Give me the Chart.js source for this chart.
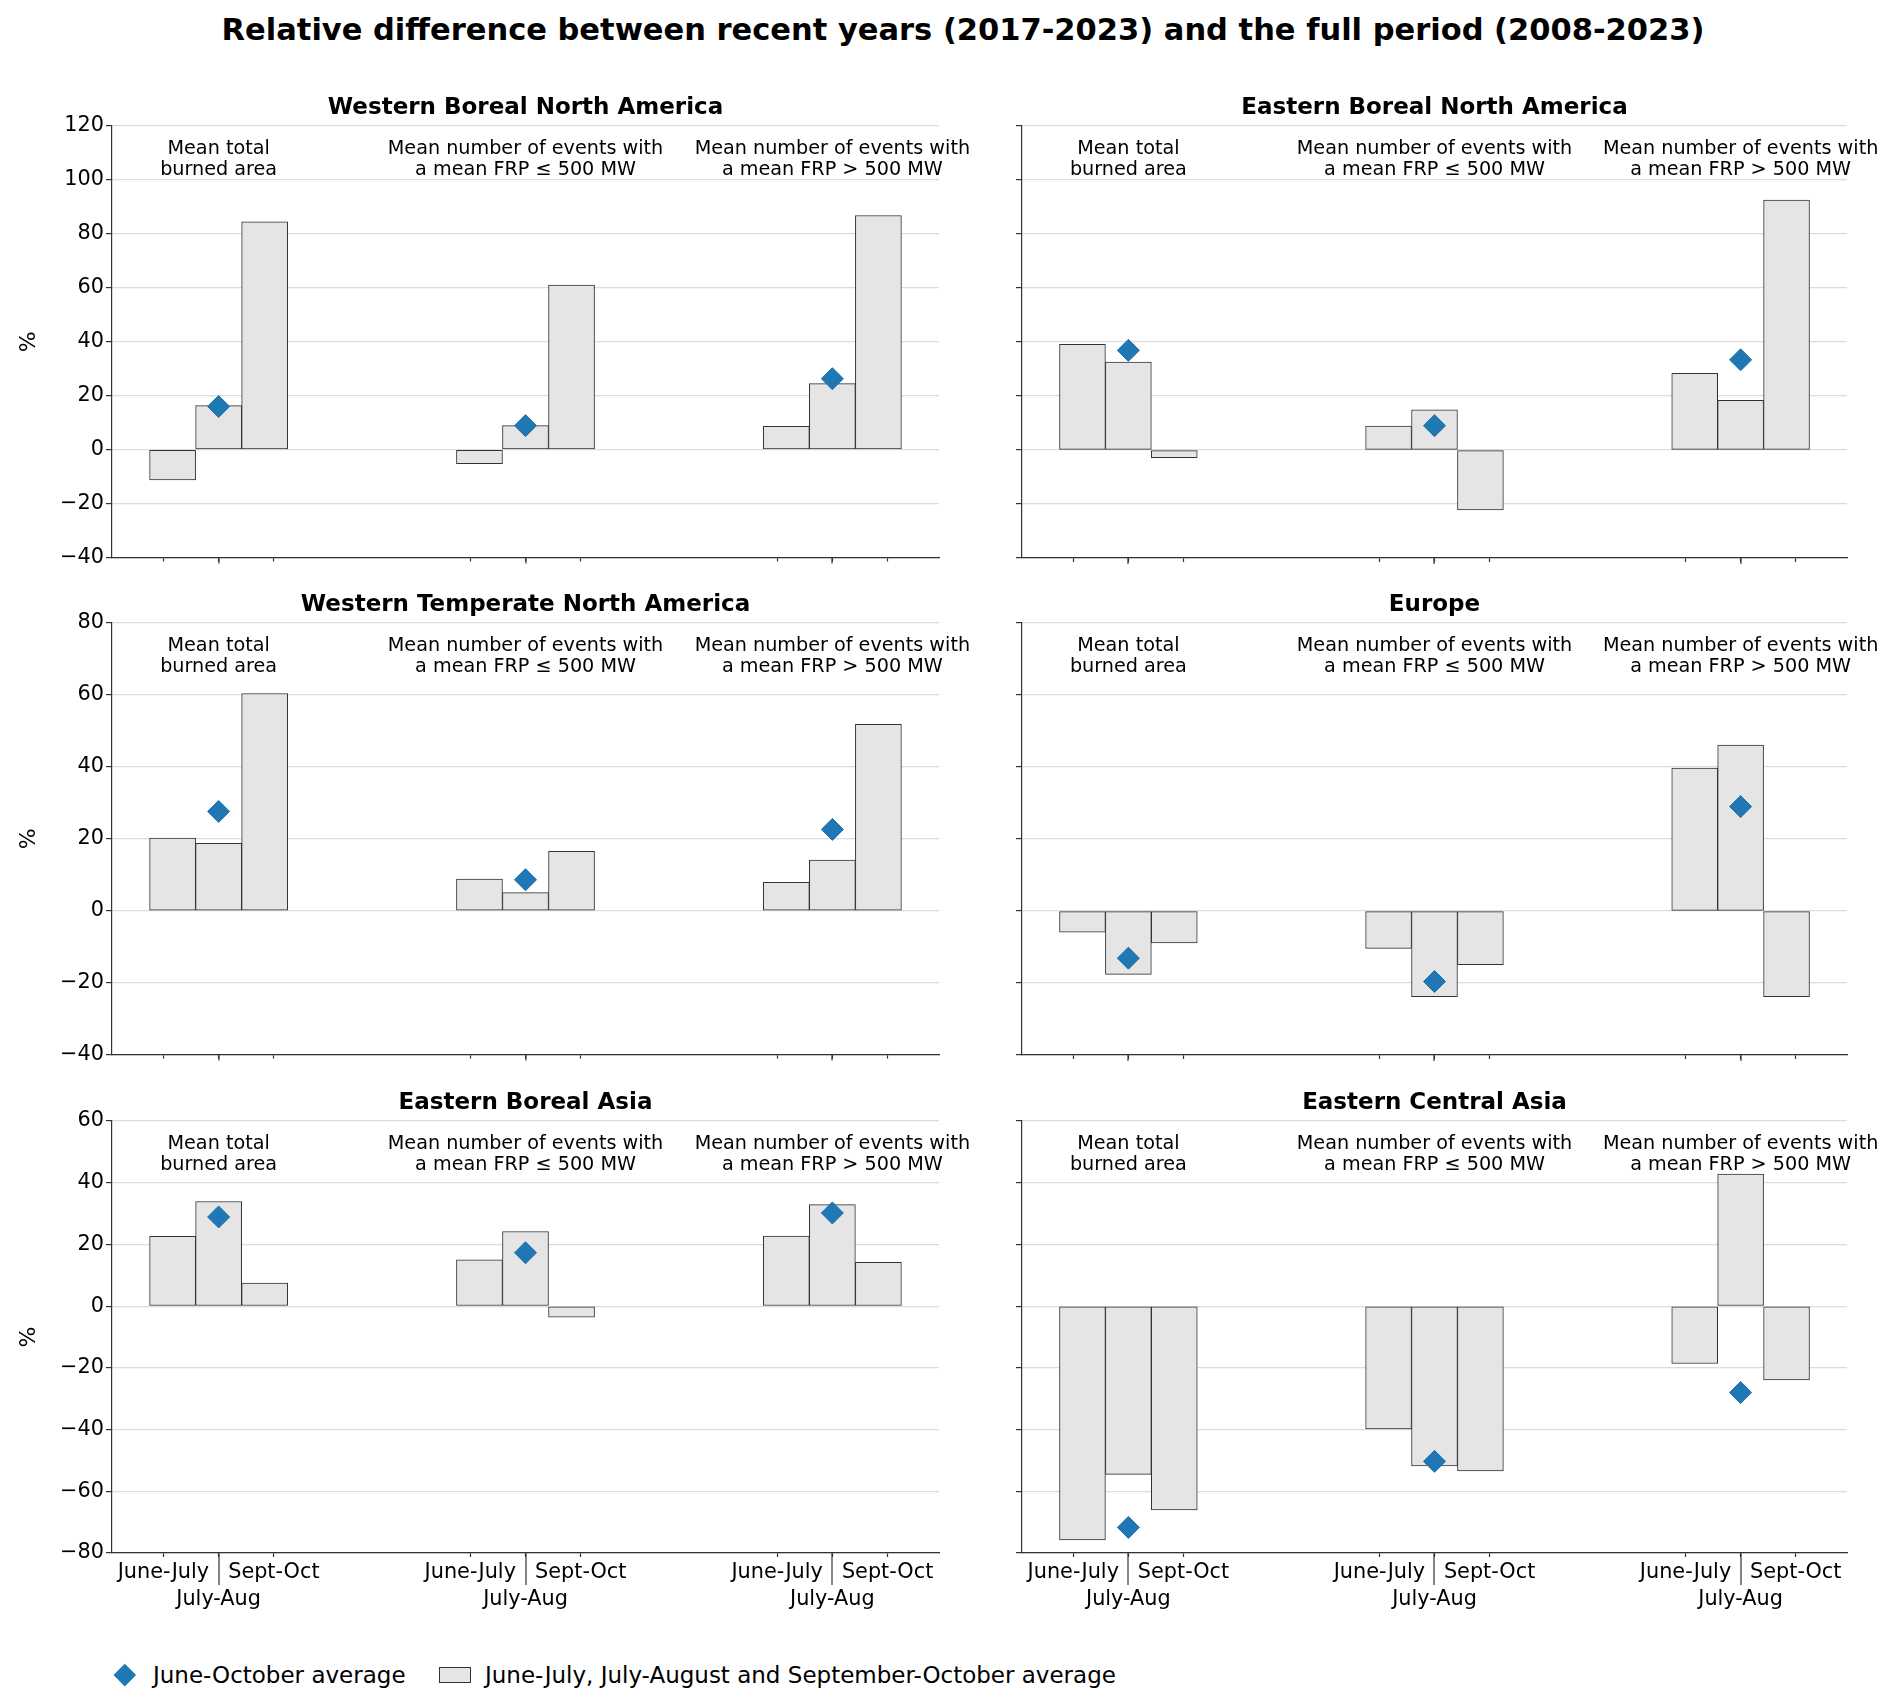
<!DOCTYPE html>
<html>
<head>
<meta charset="utf-8">
<script src="https://cdn.jsdelivr.net/npm/chart.js@4.4.1/dist/chart.umd.min.js"></script>
<style>
    body { margin: 0; background: white; font-family: "DejaVu Sans", sans-serif; }
    #figure { position: relative; width: 1892px; height: 1704px; overflow: hidden; }
    #figure canvas { position: absolute; }
    .suptitle { position: absolute; top: 15px; left: 963px; transform: translateX(-50%); white-space: nowrap; font-weight: bold; font-size: 30.5px; line-height: 1; }
    .legendText { position: absolute; top: 1664px; font-size: 23px; line-height: 1; white-space: nowrap; }
    .legendDiamond { position: absolute; left: 117px; top: 1667px; width: 15.6px; height: 15.6px; background: #1f77b4; transform: rotate(45deg); }
    .legendBox { position: absolute; left: 439px; top: 1667px; width: 32px; height: 16px; box-sizing: border-box; background: #e5e5e5; border: 1px solid #333; }
</style>
</head>
<body>
<div id="figure">
    <div class="suptitle">Relative difference between recent years (2017-2023) and the full period (2008-2023)</div>
    <div class="legendDiamond"></div>
    <div class="legendText" style="left: 153px">June-October average</div>
    <div class="legendBox"></div>
    <div class="legendText" style="left: 485px">June-July, July-August and September-October average</div>
</div>
<script>
const regions = ["Western Boreal North America", "Eastern Boreal North America", "Western Temperate North America", "Europe", "Eastern Boreal Asia", "Eastern Central Asia"]
const metricLabels = [["Mean total", "burned area"], ["Mean number of events with", "a mean FRP \u2264 500 MW"], ["Mean number of events with", "a mean FRP > 500 MW"]]
const periodLabels = ["June-July", "July-Aug", "Sept-Oct"]

// % difference per metric: [June-July, July-Aug, Sept-Oct]
const westernBorealNA = [[-11.2, 16.3, 84.5], [-5.2, 8.9, 61.0], [8.6, 24.5, 86.8]]
const easternBorealNA = [[39.1, 32.6, -2.8], [8.9, 14.9, -22.2], [28.4, 18.4, 92.6]]
const westernTemperateNA = [[20.2, 18.7, 60.4], [8.8, 5.0, 16.5], [7.9, 14.1, 51.8]]
const europe = [[-5.9, -17.6, -8.9], [-10.4, -23.8, -14.9], [39.7, 46.1, -23.8]]
const easternBorealAsia = [[22.6, 33.9, 7.5], [15.0, 24.2, -3.6], [22.7, 32.9, 14.2]]
const easternCentralAsia = [[-75.8, -54.5, -66.0], [-39.8, -51.8, -53.4], [-18.6, 42.8, -23.9]]

// June-October average per metric
const westernBorealNAMean = [16.0, 8.9, 26.3]
const easternBorealNAMean = [36.9, 9.0, 33.4]
const westernTemperateNAMean = [27.6, 8.6, 22.6]
const europeMean = [-13.1, -19.6, 29.0]
const easternBorealAsiaMean = [28.9, 17.3, 30.2]
const easternCentralAsiaMean = [-71.7, -50.3, -28.0]

const yRanges = [[-40, 120], [-40, 80], [-80, 60]]

const panelBars = [westernBorealNA, easternBorealNA, westernTemperateNA, europe, easternBorealAsia, easternCentralAsia]
const panelMeans = [westernBorealNAMean, easternBorealNAMean, westernTemperateNAMean, europeMean, easternBorealAsiaMean, easternCentralAsiaMean]

// layout
const barStep = 0.15
const tickStep = 0.18
const plotTops = [126, 623, 1121]
const plotHeight = 432

Chart.defaults.font.family = '"DejaVu Sans", sans-serif'

let minusSign = (v) => v < 0 ? `\u2212${Math.abs(v)}` : `${v}`

let panelText = {
    id: "panelText",
    afterDraw(chart, args, opts) {
        const { ctx, chartArea, scales: { x } } = chart
        ctx.save()
        ctx.fillStyle = "#000"
        ctx.textAlign = "center"
        ctx.textBaseline = "alphabetic"
        ctx.font = 'bold 23px "DejaVu Sans"'
        ctx.fillText(opts.title, (chartArea.left + chartArea.right) / 2, chartArea.top - 12.5)

        ctx.font = '19.2px "DejaVu Sans"'
        metricLabels.forEach((lines, g) => {
            let px = x.getPixelForValue(g)
            lines.forEach((t, k) => ctx.fillText(t, px, chartArea.top + 27.6 + k * 20.9))
        })

        // longer centre tick under each group
        ctx.strokeStyle = "#333"
        ctx.lineWidth = 1.2
        metricLabels.forEach((lines, g) => {
            let px = Math.round(x.getPixelForValue(g))
            ctx.beginPath()
            ctx.moveTo(px, chartArea.bottom)
            ctx.lineTo(px, chartArea.bottom + opts.centerTick)
            ctx.stroke()
        })
        ctx.restore()
    }
}

let makePanel = (index) => {
    let row = Math.floor(index / 2)
    let col = index % 2
    let isLeft = col === 0
    let isBottom = row === 2
    let axisHeight = isBottom ? 80 : 14

    let canvas = document.createElement("canvas")
    let width = isLeft ? 1000 : 932
    let height = 50 + plotHeight + axisHeight
    canvas.width = width
    canvas.height = height
    canvas.style.left = `${isLeft ? 0 : 960}px`
    canvas.style.top = `${plotTops[row] - 50}px`
    canvas.style.width = `${width}px`
    canvas.style.height = `${height}px`
    document.getElementById("figure").appendChild(canvas)

    let bars = []
    let means = []
    panelBars[index].forEach((vals, g) => {
        vals.forEach((v, k) => bars.push({ x: g + (k - 1) * barStep, y: v }))
        means.push({ x: g, y: panelMeans[index][g] })
    })
    let xTicks = []
    metricLabels.forEach((m, g) => xTicks.push(g - tickStep, g, g + tickStep))

    new Chart(canvas, {
        type: "bar",
        data: {
            datasets: [
                {
                    type: "scatter",
                    label: "June-October average",
                    data: means,
                    order: 0,
                    pointStyle: "rectRot",
                    pointRadius: 11,
                    pointHoverRadius: 11,
                    backgroundColor: "#1f77b4",
                    borderColor: "#1f6fa8",
                    borderWidth: 1,
                },
                {
                    label: "June-July, July-August and September-October average",
                    data: bars,
                    order: 1,
                    backgroundColor: "#e5e5e5",
                    borderColor: "#333",
                    borderWidth: 1,
                    borderSkipped: false,
                    barPercentage: 1,
                    categoryPercentage: 1,
                }
            ]
        },
        options: {
            responsive: false,
            animation: false,
            layout: { padding: { left: 0, top: 50, right: isLeft ? 61 : 45, bottom: 0 } },
            plugins: {
                legend: { display: false },
                tooltip: { enabled: false },
                panelText: { title: regions[index], centerTick: isBottom ? 32 : 6 }
            },
            scales: {
                x: {
                    type: "linear",
                    min: -0.3475,
                    max: 2.3475,
                    offset: false,
                    afterBuildTicks: (scale) => { scale.ticks = xTicks.map(v => ({ value: v })) },
                    afterFit: (scale) => { scale.height = axisHeight },
                    grid: { drawOnChartArea: false, drawTicks: true, tickLength: 4, tickColor: "#333", tickWidth: 1.2, offset: false },
                    border: { display: true, color: "#333", width: 1.2 },
                    ticks: {
                        display: isBottom,
                        autoSkip: false,
                        maxRotation: 0,
                        minRotation: 0,
                        padding: 2,
                        color: "#000",
                        font: { size: 20.8, lineHeight: 1.3 },
                        callback: (v, i) => i % 3 === 1 ? ["", periodLabels[1]] : periodLabels[i % 3]
                    }
                },
                y: {
                    min: yRanges[row][0],
                    max: yRanges[row][1],
                    afterFit: (scale) => { scale.width = isLeft ? 112 : 62 },
                    grid: { color: "#dcdcdc", lineWidth: 1.2, tickLength: 6, tickColor: "#333", tickWidth: 1.2 },
                    border: { display: true, color: "#333", width: 1.2 },
                    ticks: { display: isLeft, stepSize: 20, padding: 2, color: "#000", font: { size: 20.8 }, callback: (v) => minusSign(v) },
                    title: { display: isLeft, text: "%", color: "#000", font: { size: 22 }, padding: { top: 16, bottom: 0 } }
                }
            }
        },
        plugins: [panelText]
    })
}

window.addEventListener("load", () => {
    regions.forEach((r, i) => makePanel(i))
})
</script>
</body>
</html>
